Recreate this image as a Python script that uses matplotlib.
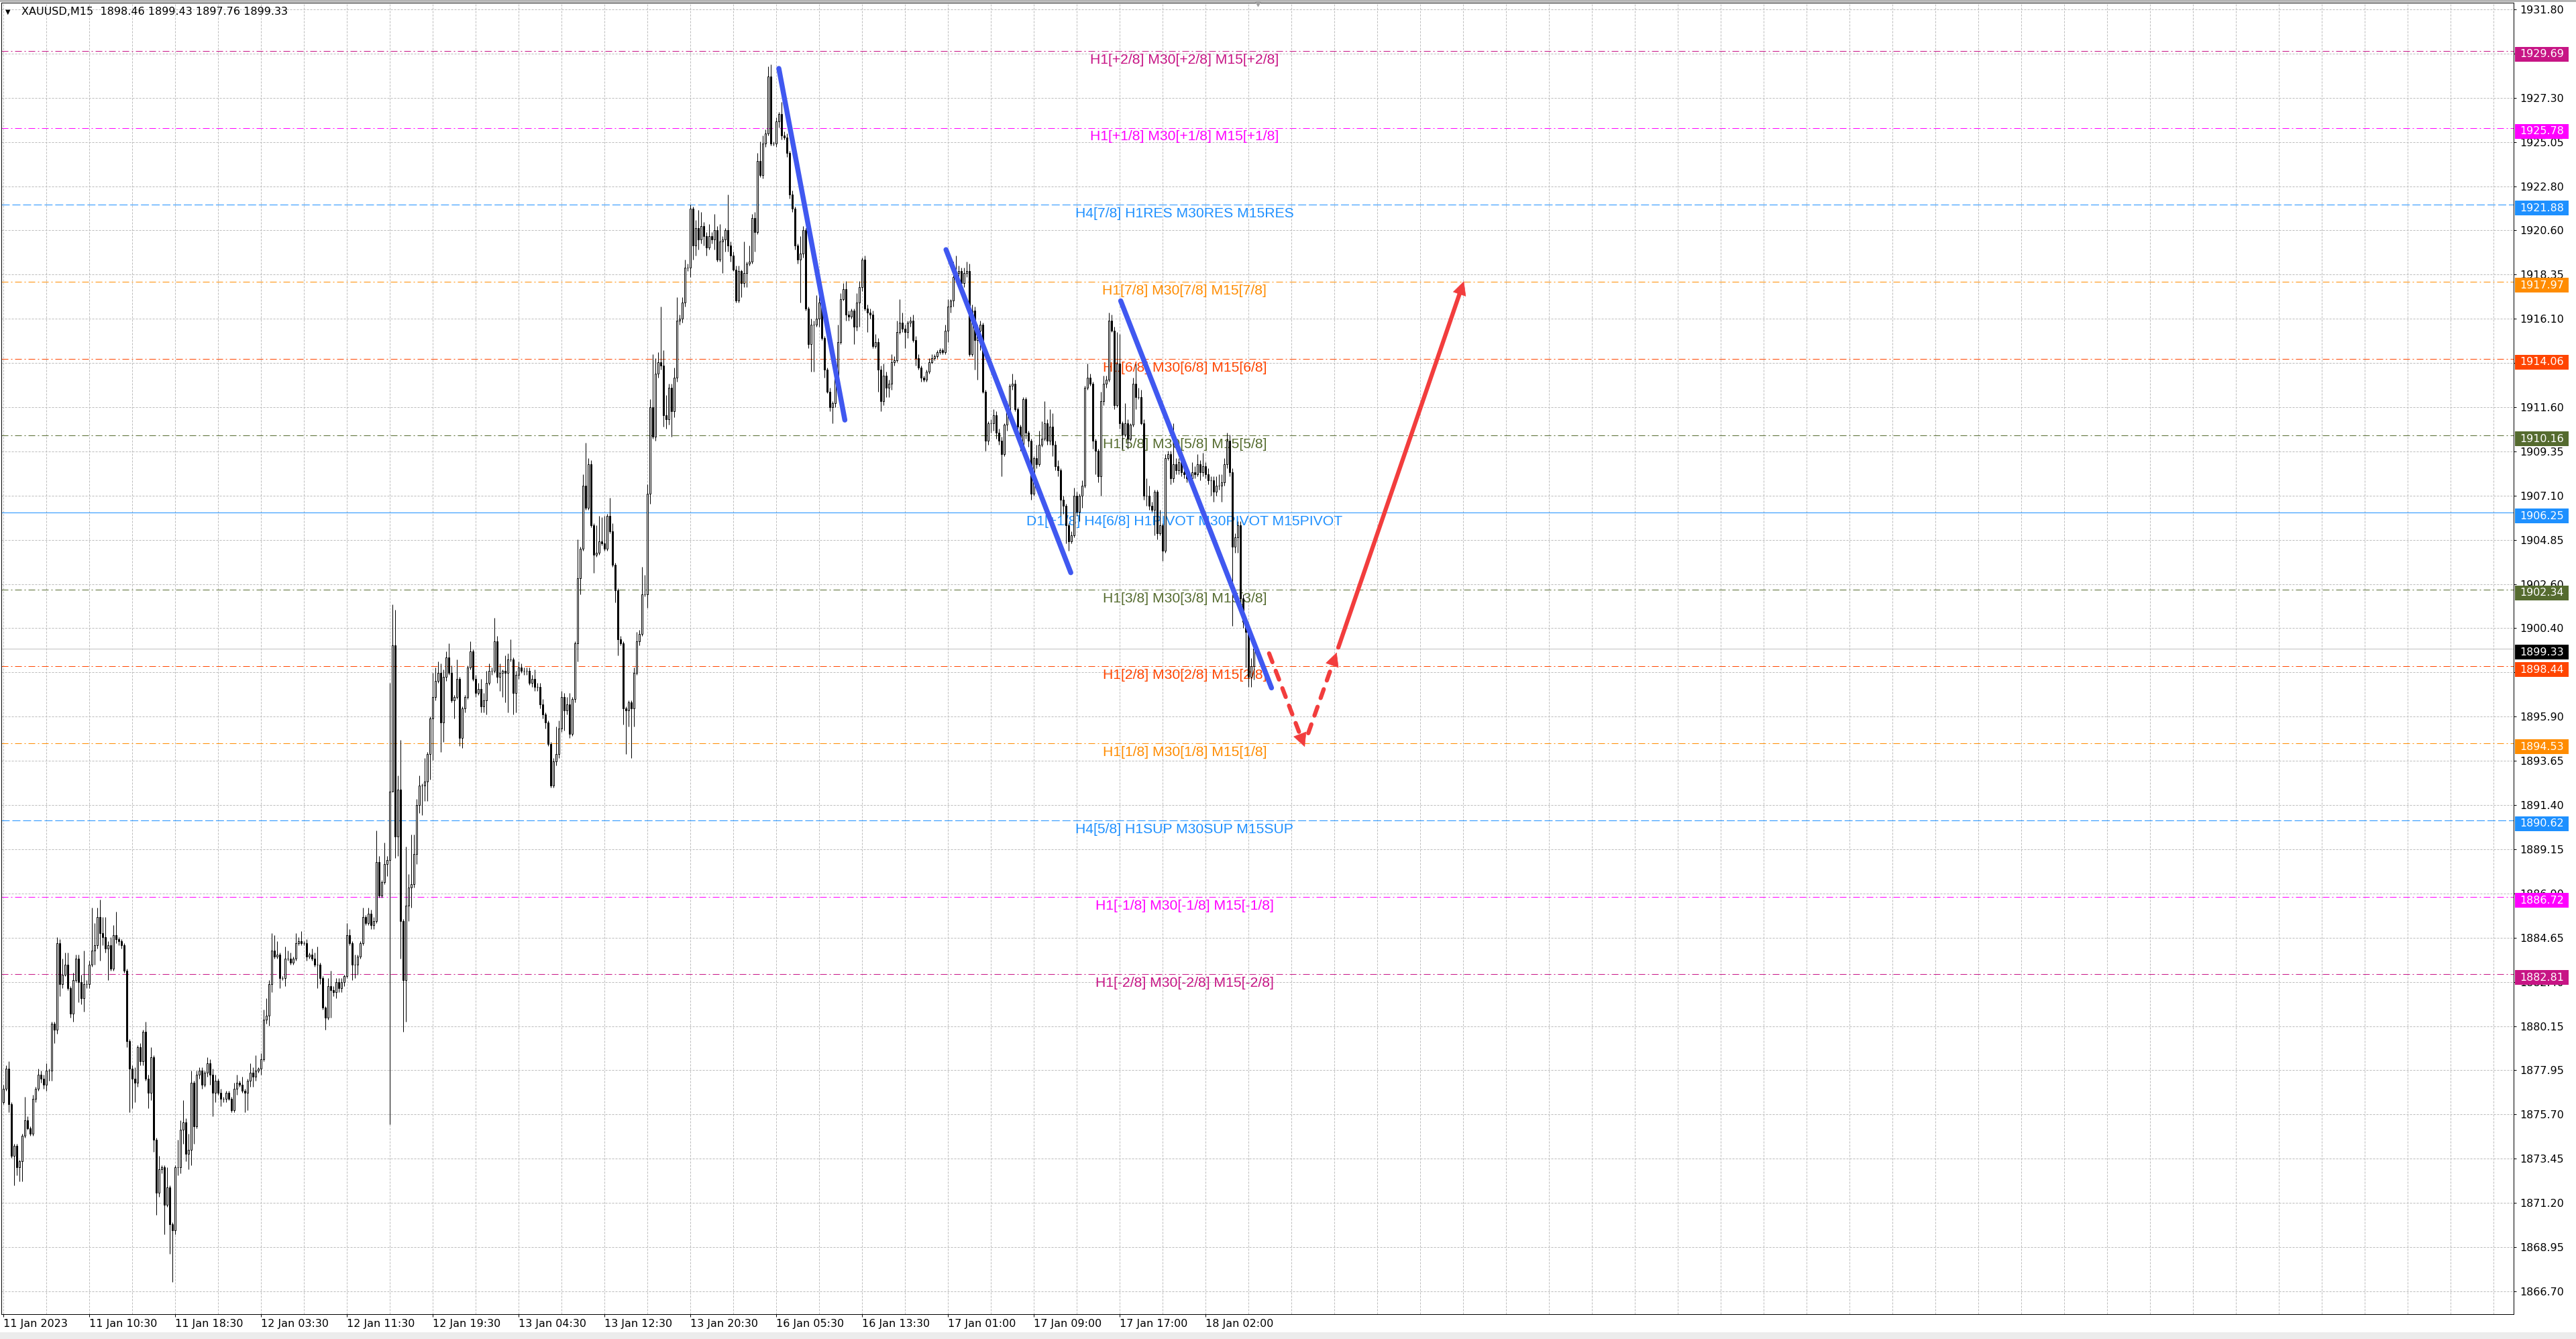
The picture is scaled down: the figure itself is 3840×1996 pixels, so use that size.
import numpy as np
import matplotlib
matplotlib.use("Agg")
from matplotlib import pyplot as plt, rcParams
from matplotlib.patches import Rectangle
import matplotlib.transforms as mtransforms

rcParams["font.family"] = "DejaVu Sans"
rcParams["lines.scale_dashes"] = False

# %% data: XAUUSD M15 closes, one per bar
first_open = 1876.3
closes = [
    1877.0, 1878.0, 1876.2, 1873.6, 1874.1, 1873.0, 1873.3, 1874.6, 1875.4, 1875.0,
    1874.7, 1876.5, 1877.0, 1877.7, 1877.5, 1877.2, 1877.9, 1877.9, 1880.3, 1880.0,
    1884.4, 1882.3, 1882.8, 1883.3, 1882.1, 1880.8, 1882.5, 1883.6, 1882.4, 1881.6,
    1882.3, 1882.3, 1883.3, 1884.0, 1884.3, 1885.7, 1884.9, 1884.7, 1884.1, 1884.3,
    1883.1, 1884.8, 1884.6, 1884.5, 1884.3, 1883.0, 1879.4, 1878.0, 1877.5, 1877.3,
    1879.1, 1878.4, 1879.9, 1877.5, 1876.8, 1878.6, 1874.4, 1871.7, 1872.9, 1873.0,
    1871.1, 1872.0, 1870.1, 1869.8, 1873.0, 1873.0, 1874.9, 1875.3, 1873.7, 1873.9,
    1877.3, 1875.1, 1877.7, 1877.9, 1877.2, 1877.8, 1878.3, 1877.7, 1876.8, 1877.4,
    1876.8, 1876.5, 1876.5, 1876.8, 1876.5, 1875.9, 1877.0, 1877.3, 1877.2, 1876.9,
    1876.8, 1877.4, 1877.8, 1877.6, 1877.9, 1878.0, 1878.5, 1880.5, 1880.7, 1882.3,
    1884.0, 1883.7, 1883.8, 1882.6, 1882.6, 1883.6, 1883.6, 1883.4, 1883.6, 1884.4,
    1884.5, 1884.4, 1884.4, 1883.7, 1883.8, 1883.6, 1883.3, 1883.3, 1882.6, 1881.1,
    1880.6, 1882.2, 1882.0, 1881.9, 1882.4, 1882.1, 1882.4, 1882.7, 1884.8, 1884.4,
    1883.3, 1883.3, 1883.7, 1884.4, 1885.7, 1885.4, 1885.9, 1885.3, 1885.5, 1888.5,
    1886.8, 1887.5, 1888.4, 1888.6, 1892.1, 1899.5, 1889.8, 1892.2, 1885.5, 1882.5,
    1886.3, 1887.2, 1887.4, 1888.9, 1891.4, 1892.4, 1892.4, 1892.6, 1894.0, 1895.8,
    1896.9, 1897.7, 1898.1, 1895.6, 1897.9, 1898.9, 1898.1, 1896.7, 1896.9, 1897.8,
    1894.8, 1896.3, 1896.9, 1898.4, 1899.2, 1897.8, 1897.1, 1897.3, 1896.4, 1896.7,
    1897.6, 1898.2, 1898.2, 1899.7, 1897.9, 1898.1, 1898.2, 1898.1, 1898.8, 1898.8,
    1897.1, 1898.0, 1898.4, 1898.2, 1898.2, 1898.2, 1897.6, 1897.8, 1897.4, 1897.4,
    1896.5, 1896.0, 1895.6, 1894.5, 1892.4, 1893.6, 1894.0, 1895.3, 1896.9, 1896.2,
    1896.5, 1895.0, 1896.8, 1899.6, 1902.9, 1904.4, 1907.6, 1906.5, 1908.7, 1905.6,
    1904.1, 1904.2, 1904.8, 1904.7, 1904.4, 1906.1, 1905.3, 1903.6, 1902.3, 1899.8,
    1899.6, 1896.3, 1896.2, 1896.6, 1896.3, 1898.1, 1899.7, 1900.1, 1902.1, 1902.1,
    1907.2, 1911.6, 1910.1, 1913.3, 1913.9, 1913.7, 1911.2, 1911.0, 1912.6, 1911.4,
    1913.1, 1916.0, 1916.1, 1916.9, 1918.7, 1918.7, 1921.7, 1919.8, 1920.7, 1920.1,
    1920.8, 1920.3, 1919.7, 1920.3, 1920.1, 1920.6, 1919.1, 1920.0, 1920.1, 1920.6,
    1919.8, 1919.3, 1918.6, 1917.0, 1918.5, 1917.9, 1918.4, 1918.9, 1919.0, 1921.2,
    1920.5, 1924.1, 1923.4, 1925.0, 1925.5, 1928.4, 1925.0, 1925.0, 1926.1, 1926.5,
    1925.4, 1925.3, 1924.5, 1922.4, 1921.7, 1919.8, 1919.1, 1919.4, 1920.6, 1916.6,
    1914.8, 1915.8, 1915.8, 1916.1, 1916.9, 1915.1, 1913.5, 1912.4, 1911.6, 1911.8,
    1913.1, 1914.9, 1917.1, 1917.6, 1916.3, 1916.2, 1916.5, 1915.7, 1916.9, 1917.7,
    1919.1, 1916.6, 1916.4, 1916.3, 1914.7, 1914.9, 1913.5, 1911.9, 1913.2, 1912.6,
    1912.8, 1913.9, 1914.0, 1915.4, 1915.9, 1915.6, 1915.4, 1915.9, 1916.0, 1915.0,
    1914.1, 1913.6, 1913.1, 1913.0, 1913.4, 1913.9, 1914.1, 1914.2, 1914.4, 1914.5,
    1914.4, 1915.5, 1916.7, 1917.0, 1918.2, 1918.4, 1918.5, 1917.9, 1918.4, 1918.5,
    1914.3, 1916.5, 1915.0, 1915.5, 1915.8, 1912.4, 1909.9, 1910.8, 1910.8, 1911.2,
    1910.3, 1909.9, 1909.2, 1910.7, 1911.4, 1912.7, 1912.8, 1911.5, 1910.6, 1909.7,
    1912.0, 1910.3, 1909.9, 1907.2, 1909.0, 1908.7, 1909.7, 1910.0, 1910.8, 1909.9,
    1910.6, 1909.7, 1908.6, 1908.4, 1906.9, 1906.6, 1905.6, 1904.8, 1905.1, 1907.1,
    1906.3, 1907.1, 1907.6, 1912.6, 1913.1, 1912.8, 1909.9, 1909.4, 1908.1, 1911.9,
    1912.8, 1913.0, 1916.0, 1915.5, 1911.7, 1913.8, 1910.8, 1910.2, 1910.8, 1910.0,
    1910.7, 1912.8, 1912.1, 1912.1, 1910.8, 1907.1, 1907.1, 1906.6, 1906.4, 1907.3,
    1905.2, 1905.6, 1904.3, 1909.0, 1909.2, 1908.0, 1908.7, 1908.4, 1908.8, 1908.3,
    1908.2, 1908.0, 1908.0, 1908.3, 1908.2, 1908.7, 1908.3, 1908.6, 1908.2, 1907.9,
    1907.9, 1907.3, 1907.6, 1907.6, 1907.8, 1908.7, 1909.9, 1908.3, 1904.5, 1905.0,
    1905.6, 1901.9, 1900.7, 1900.2, 1897.9, 1898.46, 1899.33,
]
# wick lengths above / below the body, in tenths of a dollar
upper_wick = [
    2, 2, 4, 1, 1, 1, 1, 1, 12, 2, 1, 2, 1, 3, 2, 2, 4, 1, 1, 1,
    3, 2, 8, 6, 6, 1, 4, 2, 2, 4, 17, 2, 2, 22, 11, 5, 9, 8, 10, 2,
    4, 5, 12, 1, 1, 1, 1, 1, 2, 6, 1, 2, 1, 5, 2, 5, 1, 1, 7, 1,
    1, 10, 1, 1, 1, 14, 5, 11, 2, 8, 6, 1, 2, 2, 2, 1, 3, 2, 3, 3,
    1, 2, 1, 1, 1, 1, 3, 4, 1, 4, 1, 1, 5, 3, 8, 1, 3, 5, 9, 2,
    9, 8, 7, 1, 1, 6, 4, 3, 1, 5, 2, 5, 1, 2, 1, 3, 3, 9, 1, 1,
    1, 4, 8, 2, 2, 2, 2, 1, 6, 3,
    1, 5, 1, 1, 5, 1, 3, 2, 2, 16, 3, 1, 11, 2, 55, 21, 18, 7, 25, 1,
    30, 7, 25, 10, 3, 5, 1, 12, 1, 1, 12, 7, 6, 5, 4, 3, 7, 4, 1, 10,
    1, 1, 1, 1, 5, 1, 2, 3, 5, 4, 6, 4, 2, 12, 3, 5, 1, 8, 3, 10,
    1, 2, 3, 2, 2, 2, 2, 2, 5, 2, 2, 3, 1, 1, 1, 2, 14, 4, 3, 2,
    4, 6, 1, 1, 20, 1, 6, 22, 3, 2, 1, 14, 13, 12, 14, 1, 9, 4, 1, 1,
    2, 1, 1, 1, 1, 3, 5, 2, 14, 10, 5, 4, 27, 8, 5, 28, 8, 10, 2, 2,
    5, 12, 2, 3, 4, 2, 2, 1, 4, 9, 7, 2, 2, 6, 2, 8, 2, 9, 2, 1,
    18, 2, 2, 2, 3, 1, 16, 1, 8, 2, 3, 4, 10, 4, 2, 5, 6, 1, 2, 1,
    6, 2, 2, 1, 2, 1, 1, 9, 2, 1, 1, 3, 2, 12, 5, 1, 1, 1, 2, 1,
    1, 9, 3, 3, 4, 2, 1, 1, 5, 3, 1, 2, 2, 2, 2, 4, 2, 2, 6, 2,
    2, 4, 2, 6, 12, 5, 2, 1, 2, 3, 2, 2, 1, 1, 1, 2, 2, 1, 1, 1,
    1, 3, 4, 1, 8, 9, 3, 2, 3, 5, 4, 3, 2, 3, 2, 1, 1, 1, 2, 3,
    2, 2, 2, 1, 5, 1, 5, 2, 1, 1, 1, 1, 1, 1, 1, 7, 7, 9, 11, 2,
    9, 7, 2, 3, 1, 2, 1, 1, 2, 4, 2, 1, 3, 1, 7, 2, 1, 1, 1, 5,
    4, 2, 4, 3, 2, 16, 15, 1, 10, 2, 1, 3, 10, 5, 4, 2, 9, 5, 2, 1,
    1, 8, 1, 2, 2, 2, 21, 3, 2, 2, 3, 2, 2, 5, 3, 5, 2, 7, 2, 3,
    2, 2, 5, 6, 4, 3, 4, 3, 2, 2, 2, 2, 2, 2, 2, 4, 1,
]
lower_wick = [
    1, 1, 4, 1, 15, 4, 7, 10, 1, 1, 1, 1, 2, 1, 2, 2, 3, 5, 5, 7,
    2, 6, 2, 1, 1, 2, 4, 1, 10, 3, 7, 2, 2, 1, 7, 2, 14, 4, 2, 16,
    1, 1, 2, 2, 2, 1, 3, 22, 15, 10, 2, 2, 2, 1, 8, 4, 6, 11, 2, 2,
    15, 1, 15, 26, 2, 4, 3, 7, 4, 8, 8, 9, 1, 2, 2, 1, 2, 5, 12, 5,
    1, 4, 2, 2, 1, 1, 1, 3, 1, 1, 10, 9, 3, 5, 2, 1, 3, 1, 2, 5,
    4, 1, 1, 5, 1, 4, 1, 1, 1, 1, 1, 1, 1, 2, 1, 1, 1, 12, 3, 1,
    6, 1, 14, 2, 3, 2, 2, 2, 1, 1,
    8, 7, 5, 1, 1, 1, 1, 2, 2, 1, 1, 1, 1, 6, 134, 0, 11, 10, 19, 26,
    21, 8, 10, 2, 5, 4, 15, 8, 10, 13, 21, 2, 1, 15, 10, 2, 1, 1, 9, 1,
    4, 5, 2, 1, 1, 1, 2, 1, 3, 3, 7, 1, 2, 1, 3, 7, 12, 15, 20, 1,
    11, 10, 2, 1, 2, 2, 1, 2, 2, 2, 2, 2, 3, 1, 1, 1, 2, 2, 2, 10,
    2, 2, 1, 2, 9, 8, 1, 1, 1, 1, 9, 1, 1, 1, 1, 1, 1, 1, 6, 8,
    1, 8, 22, 8, 25, 9, 1, 2, 1, 1, 7, 5, 1, 2, 2, 2, 6, 5, 3, 13,
    3, 2, 2, 2, 2, 2, 5, 7, 5, 5, 2, 5, 4, 1, 2, 5, 1, 1, 16, 6,
    3, 3, 1, 1, 1, 7, 2, 7, 1, 1, 10, 1, 1, 2, 2, 1, 1, 1, 2, 3,
    2, 1, 2, 2, 2, 2, 2, 22, 2, 1, 2, 14, 24, 1, 4, 1, 4, 1, 2, 8,
    2, 1, 1, 1, 3, 2, 1, 9, 2, 12, 2, 1, 10, 2, 1, 1, 11, 5, 2, 5,
    5, 3, 2, 1, 1, 2, 8, 3, 2, 1, 4, 1, 2, 1, 1, 1, 1, 1, 1, 1,
    1, 1, 6, 3, 3, 2, 2, 2, 2, 2, 1, 1, 15, 20, 10, 1, 5, 2, 5, 4,
    3, 2, 11, 1, 3, 1, 2, 1, 2, 3, 2, 3, 3, 3, 1, 2, 1, 1, 1, 2,
    2, 6, 2, 3, 8, 4, 9, 5, 1, 1, 2, 5, 6, 1, 1, 1, 4, 12, 3, 10,
    2, 2, 1, 1, 2, 1, 3, 7, 1, 5, 1, 1, 6, 1, 1, 2, 5, 2, 1, 13,
    3, 1, 5, 1, 1, 3, 2, 2, 2, 2, 2, 2, 2, 2, 2, 1, 4, 2, 2, 2,
    8, 5, 2, 2, 8, 2, 2, 2, 40, 3, 8, 2, 3, 18, 5, 5, 7,
]

date_labels = [
    "11 Jan 2023", "11 Jan 10:30", "11 Jan 18:30", "12 Jan 03:30",
    "12 Jan 11:30", "12 Jan 19:30", "13 Jan 04:30", "13 Jan 12:30",
    "13 Jan 20:30", "16 Jan 05:30", "16 Jan 13:30", "17 Jan 01:00",
    "17 Jan 09:00", "17 Jan 17:00", "18 Jan 02:00",
]
bars_per_label = 32

price_ticks = [
    "1931.80", "1929.55", "1927.30", "1925.05", "1922.80", "1920.60",
    "1918.35", "1916.10", "1913.85", "1911.60", "1909.35", "1907.10",
    "1904.85", "1902.60", "1900.40", "1898.15", "1895.90", "1893.65",
    "1891.40", "1889.15", "1886.90", "1884.65", "1882.40", "1880.15",
    "1877.95", "1875.70", "1873.45", "1871.20", "1868.95", "1866.70",
]

# Murrey math levels
levels = [1929.69, 1925.78, 1921.88, 1917.97, 1914.06, 1910.16, 1906.25,
          1902.34, 1898.44, 1894.53, 1890.62, 1886.72, 1882.81]
level_names = [
    "H1[+2/8] M30[+2/8] M15[+2/8]",
    "H1[+1/8] M30[+1/8] M15[+1/8]",
    "H4[7/8] H1RES M30RES M15RES",
    "H1[7/8] M30[7/8] M15[7/8]",
    "H1[6/8] M30[6/8] M15[6/8]",
    "H1[5/8] M30[5/8] M15[5/8]",
    "D1[+1/8] H4[6/8] H1PIVOT M30PIVOT M15PIVOT",
    "H1[3/8] M30[3/8] M15[3/8]",
    "H1[2/8] M30[2/8] M15[2/8]",
    "H1[1/8] M30[1/8] M15[1/8]",
    "H4[5/8] H1SUP M30SUP M15SUP",
    "H1[-1/8] M30[-1/8] M15[-1/8]",
    "H1[-2/8] M30[-2/8] M15[-2/8]",
]
level_colors = ["#c71585", "#ff00ff", "#1e90ff", "#ff8c00", "#ff4500",
                "#556b2f", "#1e90ff", "#556b2f", "#ff4500", "#ff8c00",
                "#1e90ff", "#ff00ff", "#c71585"]
level_kinds = ["dashdot", "dashdot", "dashed", "dashdot", "dashdot", "dashdot",
               "solid", "dashdot", "dashdot", "dashdot", "dashed", "dashdot",
               "dashdot"]
bid_price = 1899.33

# drawn objects: (bar0, price0, bar1, price1)
trend_lines = [
    (289.0, 1928.8, 313.6, 1910.95),
    (351.3, 1919.6, 397.8, 1903.2),
    (416.4, 1917.0, 472.6, 1897.35),
]
# (bar0, price0, bar1, price1, dashed)
red_arrows = [
    (471.7, 1899.1, 485.0, 1894.35, True),
    (486.3, 1895.05, 496.9, 1899.15, True),
    (497.5, 1899.4, 544.3, 1918.0, False),
]

# %% derived OHLC
closes = np.array(closes)
opens = np.concatenate([[first_open], closes[:-1]])
highs = np.maximum(opens, closes) + np.array(upper_wick) / 10
lows = np.minimum(opens, closes) - np.array(lower_wick) / 10
bars = np.arange(len(closes))

# %% figure
W, H = 3840, 1996
fig = plt.figure(figsize=(W / 100, H / 100), dpi=100)
fig.patch.set_facecolor("white")
left, right, top, bottom = 2, 3747, 4, 1959
ax = fig.add_axes([left / W, 1 - bottom / H, (right - left) / W, (bottom - top) / H])
ax.set_xlim(-0.75, 935.5)
ax.set_ylim(1865.55, 1932.14)
px = 0.72  # one pixel in points

tick_vals = [float(t) for t in price_ticks]
grid_dash = (0, (2.2, 1.4))
ax.hlines(tick_vals, -0.75, 935.5, colors="#bcbcbc", lw=px, linestyles=[grid_dash], zorder=0.5)
ax.vlines(np.arange(0, 936, 16), 1865.55, 1932.14, colors="#bcbcbc", lw=px,
          linestyles=[grid_dash], zorder=0.5)

styles = {"dashdot": (0, (7.2, 2.9, 1.4, 2.9)), "dashed": (0, (8.6, 2.9)), "solid": "-"}
for lv, name, col, kind in zip(levels, level_names, level_colors, level_kinds):
    ax.axhline(lv, color=col, lw=px, linestyle=styles[kind], zorder=1)
    ax.text(440.2, lv - 0.45, name, color=col, ha="center", va="center",
            fontsize=15.2, family="Liberation Sans", zorder=1.5)
ax.axhline(bid_price, color="#c0c0c0", lw=px, zorder=1)

# candles
bull = closes >= opens
ax.vlines(bars, lows, highs, colors="black", lw=px, zorder=2)
ax.bar(bars, np.abs(closes - opens), bottom=np.minimum(opens, closes), width=0.7,
       color=np.where(bull, "white", "black"), edgecolor="black", linewidth=px, zorder=2.1)

# trend lines
for x0, y0, x1, y1 in trend_lines:
    ax.plot([x0, x1], [y0, y1], color="#4058f0", lw=5.4, solid_capstyle="round", zorder=3)

# red arrows
red = "#f23d3d"
head_len = 19  # px
inv = ax.transData.inverted()
for x0, y0, x1, y1, dashed in red_arrows:
    p0 = ax.transData.transform((x0, y0))
    p1 = ax.transData.transform((x1, y1))
    u = (p1 - p0) / np.hypot(*(p1 - p0))
    bx, by = inv.transform(p1 - u * head_len * 0.8)
    nx, ny = inv.transform(p1 - u * 2)
    if dashed:
        ax.plot([x0, bx], [y0, by], color=red, lw=4.5, linestyle=(0, (10, 10)),
                dash_capstyle="round", zorder=3)
    else:
        ax.plot([x0, bx], [y0, by], color=red, lw=4.5, solid_capstyle="round", zorder=3)
    ax.annotate("", xy=(x1, y1), xytext=(nx, ny),
                arrowprops=dict(arrowstyle="-|>,head_length=1.0,head_width=0.5",
                                mutation_scale=14, color=red, lw=0.5,
                                shrinkA=0, shrinkB=0), zorder=3)

# axes styling
for sp in ax.spines.values():
    sp.set_color("black")
    sp.set_linewidth(px)
ax.yaxis.tick_right()
ax.set_yticks(tick_vals)
ax.set_yticklabels(price_ticks)
ax.tick_params(axis="y", length=2.9, width=px, pad=3.6, labelsize=11.4, colors="black")
date_bars = np.arange(len(date_labels)) * bars_per_label
ax.set_xticks(date_bars)
ax.set_xticklabels(date_labels, ha="left")
ax.tick_params(axis="x", length=2.9, width=px, pad=2.2, labelsize=11.5, colors="black")

# right-hand price tags (sit a few pixels below their line)
blend = mtransforms.blended_transform_factory(ax.transAxes, ax.transData)
tag_x0 = (3749 - left) / (right - left)
tag_w = 80 / (right - left)
tag_h = 22 / 29.36
tag_drop = 5 / 29.36
for lv, col in list(zip(levels, level_colors)) + [(bid_price, "black")]:
    ax.add_patch(Rectangle((tag_x0, lv - tag_drop - tag_h / 2), tag_w, tag_h, transform=blend,
                           facecolor=col, edgecolor="none", clip_on=False, zorder=5))
    ax.text(tag_x0 + tag_w / 2, lv - tag_drop, f"{lv:.2f}", transform=blend, color="white",
            ha="center", va="center", fontsize=11.4, clip_on=False, zorder=6)

# chart shift marker
shift = mtransforms.blended_transform_factory(ax.transData, ax.transAxes)
ax.plot([len(closes) + 0.5], [1.0], marker="v", color="#a0a0a0", markersize=7,
        transform=shift, clip_on=False, zorder=6)

# header
fig.text(8 / W, 1 - 18 / H, "\u25bc", fontsize=7, va="center")
fig.text(32 / W, 1 - 18 / H,
         f"XAUUSD,M15  {opens[-1]:.2f} {highs[-1]:.2f} {lows[-1]:.2f} {closes[-1]:.2f}",
         fontsize=11.5, va="center")
fig.patches.append(Rectangle((0, 1 - 3 / H), 1, 3 / H, transform=fig.transFigure,
                             facecolor="#b4b4b4", edgecolor="none"))
fig.patches.append(Rectangle((0, 0), 1, 10 / H, transform=fig.transFigure,
                             facecolor="#ececec", edgecolor="none"))

fig.savefig("out.png", dpi=100, facecolor="white")
